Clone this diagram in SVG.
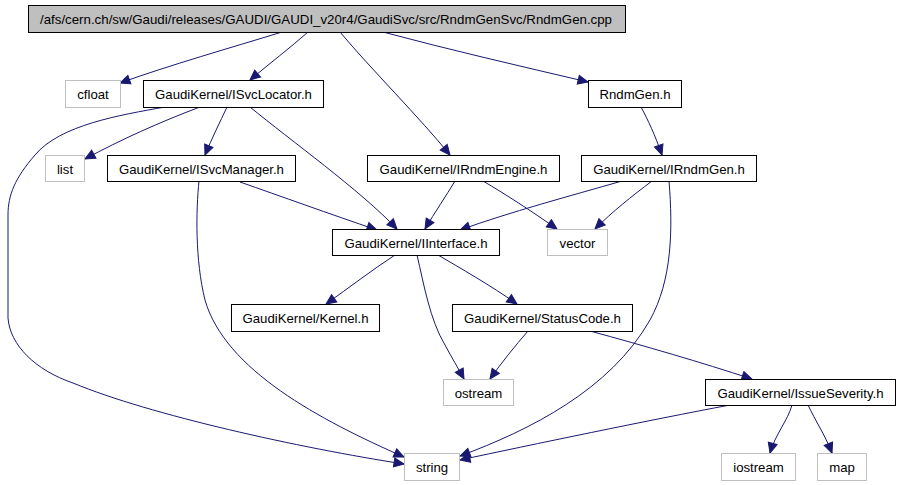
<svg xmlns="http://www.w3.org/2000/svg" width="900" height="485" viewBox="0 0 900 485">
<style>
.node rect{fill:#ffffff;stroke:#000000;stroke-width:1}
.ext rect{stroke:#bfbfbf}
.root rect{fill:#bfbfbf}
text{font-family:"Liberation Sans",Arial,sans-serif;font-size:13.2px;fill:#000;text-anchor:middle}
#edges path{fill:none;stroke:#191970;stroke-width:1;marker-end:url(#arr)}
</style>
<defs>
<marker id="arr" markerUnits="userSpaceOnUse" markerWidth="12" markerHeight="10" refX="10" refY="4.5" orient="auto" overflow="visible">
<path d="M0,0 L10,4.5 L0,9 z" fill="#191970" stroke="#191970" stroke-width="1"/>
</marker>
</defs>
<rect width="900" height="485" fill="#ffffff"/>
<g id="edges">
<path d="M282,32 C230,48 170,65 120,83"/>
<path d="M308,32 C290,48 270,63 250,80"/>
<path d="M340,32 C370,68 420,118 450,155"/>
<path d="M383,32 C450,50 520,66 588,82"/>
<path d="M200,107 C160,122 120,140 85,159"/>
<path d="M227,107 C220,122 212,138 205,155"/>
<path d="M250,107 C290,140 360,190 397,229"/>
<path d="M165,107 C120,115 60,125 35,155 C15,178 8,195 8,215 L8,318 C10,345 35,370 73,383 C150,415 300,448 404,464"/>
<path d="M641,107 C648,120 655,135 662,155"/>
<path d="M240,182 C280,196 330,214 377,230"/>
<path d="M199,181 C196,210 195,260 205,300 C225,370 320,420 404,457"/>
<path d="M455,181 C446,196 435,212 425,229"/>
<path d="M483,181 C505,194 530,210 557,229"/>
<path d="M622,181 C570,196 510,212 460,230"/>
<path d="M652,181 C632,196 612,212 595,229"/>
<path d="M669,181 C673,230 672,280 650,320 C610,390 530,430 460,456"/>
<path d="M395,255 C372,270 350,287 326,304"/>
<path d="M438,255 C460,268 490,285 517,304"/>
<path d="M417,255 C424,285 430,320 445,345 C452,358 458,368 464,379"/>
<path d="M528,331 C515,346 502,362 490,379"/>
<path d="M590,331 C645,346 700,362 752,379"/>
<path d="M730,405 C650,420 530,445 460,460"/>
<path d="M792,405 C788,420 775,435 770,453"/>
<path d="M808,405 C815,420 825,435 832,453"/>
</g>
<g id="n_root" class="node root"><rect x="28.5" y="5.5" width="597" height="27"/><text x="326" y="24" textLength="572" lengthAdjust="spacingAndGlyphs">/afs/cern.ch/sw/Gaudi/releases/GAUDI/GAUDI_v20r4/GaudiSvc/src/RndmGenSvc/RndmGen.cpp</text></g>
<g id="n_cfloat" class="node ext"><rect x="65.5" y="80.5" width="55" height="27"/><text x="93" y="99">cfloat</text></g>
<g id="n_isvclocator" class="node"><rect x="143.5" y="80.5" width="180" height="27"/><text x="233.5" y="99">GaudiKernel/ISvcLocator.h</text></g>
<g id="n_rndmgenh" class="node"><rect x="588.5" y="80.5" width="93" height="27"/><text x="635" y="99">RndmGen.h</text></g>
<g id="n_list" class="node ext"><rect x="45.5" y="155.5" width="39" height="26"/><text x="65" y="173.5">list</text></g>
<g id="n_isvcmanager" class="node"><rect x="107.5" y="155.5" width="188" height="26"/><text x="201.5" y="173.5">GaudiKernel/ISvcManager.h</text></g>
<g id="n_irndmengine" class="node"><rect x="367.5" y="155.5" width="192" height="26"/><text x="463.5" y="173.5">GaudiKernel/IRndmEngine.h</text></g>
<g id="n_irndmgen" class="node"><rect x="581.5" y="155.5" width="175" height="26"/><text x="669" y="173.5">GaudiKernel/IRndmGen.h</text></g>
<g id="n_iinterface" class="node"><rect x="332.5" y="229.5" width="167" height="26"/><text x="416" y="247.5">GaudiKernel/IInterface.h</text></g>
<g id="n_vector" class="node ext"><rect x="547.5" y="229.5" width="60" height="26"/><text x="577.5" y="247.5">vector</text></g>
<g id="n_kernel" class="node"><rect x="231.5" y="304.5" width="148" height="27"/><text x="305.5" y="323">GaudiKernel/Kernel.h</text></g>
<g id="n_statuscode" class="node"><rect x="452.5" y="304.5" width="180" height="27"/><text x="542.5" y="323">GaudiKernel/StatusCode.h</text></g>
<g id="n_ostream" class="node ext"><rect x="443.5" y="379.5" width="70" height="26"/><text x="478.5" y="397.5">ostream</text></g>
<g id="n_issueseverity" class="node"><rect x="705.5" y="379.5" width="190" height="26"/><text x="800.5" y="397.5">GaudiKernel/IssueSeverity.h</text></g>
<g id="n_string" class="node ext"><rect x="404.5" y="453.5" width="55" height="27"/><text x="432" y="472">string</text></g>
<g id="n_iostream" class="node ext"><rect x="721.5" y="453.5" width="74" height="27"/><text x="758.5" y="472">iostream</text></g>
<g id="n_map" class="node ext"><rect x="817.5" y="453.5" width="49" height="27"/><text x="842" y="472">map</text></g>
</svg>
